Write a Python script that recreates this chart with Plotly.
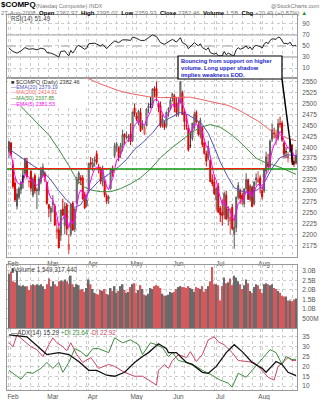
import plotly.graph_objects as go
from datetime import date

# ---------------- DATA ----------------
dates = [
 "2008-02-01","2008-02-04","2008-02-05","2008-02-06","2008-02-07","2008-02-08","2008-02-11","2008-02-12","2008-02-13","2008-02-14",
 "2008-02-15","2008-02-19","2008-02-20","2008-02-21","2008-02-22","2008-02-25","2008-02-26","2008-02-27","2008-02-28","2008-02-29",
 "2008-03-03","2008-03-04","2008-03-05","2008-03-06","2008-03-07","2008-03-10","2008-03-11","2008-03-12","2008-03-13","2008-03-14",
 "2008-03-17","2008-03-18","2008-03-19","2008-03-20","2008-03-24","2008-03-25","2008-03-26","2008-03-27","2008-03-28","2008-03-31",
 "2008-04-01","2008-04-02","2008-04-03","2008-04-04","2008-04-07","2008-04-08","2008-04-09","2008-04-10","2008-04-11","2008-04-14",
 "2008-04-15","2008-04-16","2008-04-17","2008-04-18","2008-04-21","2008-04-22","2008-04-23","2008-04-24","2008-04-25","2008-04-28",
 "2008-04-29","2008-04-30",
 "2008-05-01","2008-05-02","2008-05-05","2008-05-06","2008-05-07","2008-05-08","2008-05-09","2008-05-12","2008-05-13","2008-05-14",
 "2008-05-15","2008-05-16","2008-05-19","2008-05-20","2008-05-21","2008-05-22","2008-05-23","2008-05-27","2008-05-28","2008-05-29",
 "2008-05-30",
 "2008-06-02","2008-06-03","2008-06-04","2008-06-05","2008-06-06","2008-06-09","2008-06-10","2008-06-11","2008-06-12","2008-06-13",
 "2008-06-16","2008-06-17","2008-06-18","2008-06-19","2008-06-20","2008-06-23","2008-06-24","2008-06-25","2008-06-26","2008-06-27",
 "2008-06-30",
 "2008-07-01","2008-07-02","2008-07-03","2008-07-07","2008-07-08","2008-07-09","2008-07-10","2008-07-11","2008-07-14","2008-07-15",
 "2008-07-16","2008-07-17","2008-07-18","2008-07-21","2008-07-22","2008-07-23","2008-07-24","2008-07-25","2008-07-28","2008-07-29",
 "2008-07-30","2008-07-31",
 "2008-08-01","2008-08-04","2008-08-05","2008-08-06","2008-08-07","2008-08-08","2008-08-11","2008-08-12","2008-08-13","2008-08-14",
 "2008-08-15","2008-08-18","2008-08-19","2008-08-20","2008-08-21","2008-08-22","2008-08-25","2008-08-26","2008-08-27"]

opens = [
 2390,2410,2360,2318,2265,2285,2303,2335,2340,2368,2320,2345,2290,2335,2300,2300,2320,2335,2340,2320,
 2268,2250,2268,2265,2205,2210,2198,2258,2220,2268,2165,2200,2272,2212,2272,2325,2330,2330,2292,2266,
 2300,2365,2355,2368,2385,2355,2350,2320,2320,2288,2282,2305,2350,2380,2402,2400,2385,2405,2430,2422,2420,2430,
 2415,2490,2472,2455,2480,2445,2430,2450,2490,2500,2495,2535,2535,2500,2495,2452,2455,2448,2485,2488,2512,
 2518,2500,2475,2505,2525,2480,2450,2445,2405,2420,2445,2480,2450,2428,2445,2410,2385,2375,2370,2325,2320,
 2280,2310,2260,2250,2245,2290,2238,2230,2262,2200,2215,2285,2300,2290,2270,2305,2325,2280,2308,2270,2325,2320,
 2330,2300,2300,2345,2365,2355,2418,2432,2422,2420,2455,2455,2410,2390,2375,2390,2405,2368,2363]
highs = [
 2414,2412,2370,2330,2305,2310,2322,2352,2376,2376,2325,2347,2332,2340,2308,2332,2355,2363,2345,2320,
 2270,2265,2290,2270,2235,2218,2256,2282,2274,2272,2200,2269,2276,2260,2332,2345,2336,2336,2298,2290,
 2363,2378,2375,2379,2392,2362,2355,2358,2325,2293,2290,2353,2358,2410,2412,2402,2410,2440,2432,2436,2430,2455,
 2482,2500,2480,2486,2490,2462,2450,2490,2502,2515,2535,2540,2551,2505,2505,2475,2460,2482,2492,2515,2525,
 2522,2515,2515,2552,2530,2485,2475,2450,2437,2456,2482,2485,2460,2468,2448,2413,2392,2415,2374,2338,2335,
 2308,2318,2265,2280,2298,2300,2265,2260,2270,2245,2287,2320,2305,2295,2306,2340,2328,2315,2312,2322,2340,2345,
 2335,2305,2350,2390,2385,2418,2455,2445,2440,2465,2470,2460,2415,2400,2390,2418,2408,2378,2395]
lows = [
 2376,2380,2305,2275,2257,2280,2293,2305,2335,2328,2308,2298,2285,2293,2258,2290,2315,2330,2320,2268,
 2240,2228,2250,2220,2190,2168,2185,2243,2200,2198,2155,2195,2208,2205,2270,2315,2313,2280,2258,2262,
 2295,2350,2345,2355,2360,2340,2315,2310,2285,2270,2270,2303,2332,2375,2390,2368,2375,2390,2406,2418,2412,2405,
 2412,2470,2460,2450,2435,2440,2428,2448,2478,2490,2490,2515,2505,2480,2445,2445,2440,2445,2470,2485,2505,
 2480,2470,2470,2500,2474,2440,2440,2390,2398,2415,2440,2455,2425,2420,2400,2383,2356,2370,2320,2310,2290,
 2255,2250,2228,2220,2235,2233,2220,2200,2210,2167,2205,2280,2270,2268,2262,2300,2280,2275,2262,2266,2312,2318,
 2295,2280,2295,2338,2350,2350,2412,2420,2405,2415,2445,2412,2375,2375,2365,2388,2360,2355,2360]
closes = [
 2413,2383,2310,2279,2293,2305,2320,2320,2374,2333,2322,2306,2327,2300,2303,2327,2345,2354,2332,2271,
 2259,2260,2273,2221,2212,2169,2256,2244,2264,2212,2177,2268,2210,2258,2327,2341,2324,2281,2261,2279,
 2363,2361,2364,2371,2365,2349,2322,2352,2290,2276,2286,2350,2342,2403,2408,2377,2405,2429,2423,2424,2426,2413,
 2481,2477,2464,2483,2438,2451,2446,2488,2495,2497,2534,2529,2516,2492,2448,2465,2445,2481,2487,2508,2523,
 2492,2480,2503,2550,2475,2459,2449,2394,2404,2455,2475,2458,2430,2462,2406,2386,2368,2401,2321,2316,2293,
 2305,2251,2245,2243,2294,2235,2258,2239,2213,2216,2285,2312,2283,2280,2304,2326,2280,2311,2264,2320,2330,2326,
 2311,2286,2350,2378,2356,2414,2440,2431,2429,2454,2453,2417,2384,2389,2380,2415,2366,2362,2382]
prior_close = 2389

volume_b = [
 2.85,2.95,2.45,2.40,3.00,2.25,2.20,2.25,2.20,2.20,2.00,2.25,2.30,2.25,2.30,2.25,2.30,2.20,2.05,2.30,
 2.60,2.20,2.45,2.30,2.20,2.45,2.50,2.45,2.55,2.45,2.30,2.75,2.30,2.15,2.30,2.25,2.00,2.05,1.90,2.10,
 2.55,2.30,2.05,1.85,1.80,1.75,2.00,1.95,2.05,1.80,1.75,2.10,1.95,2.20,1.85,1.95,2.20,2.30,2.00,1.85,1.90,2.15,
 2.30,2.35,1.85,2.00,2.25,2.05,1.75,1.70,1.80,2.10,2.05,2.20,2.25,2.20,2.10,1.80,1.70,1.70,1.75,1.90,1.85,
 1.90,2.05,2.15,2.20,2.15,2.15,2.10,2.20,2.10,2.05,1.90,2.15,2.10,2.05,2.20,1.90,2.05,2.20,2.45,3.20,2.30,
 2.30,2.25,1.45,2.20,2.65,2.35,2.40,2.60,2.25,2.75,2.65,2.45,2.30,2.05,2.25,2.55,2.35,1.95,1.85,2.15,2.30,2.25,
 2.05,1.85,2.30,2.35,2.30,2.25,2.30,2.10,2.05,1.95,1.85,1.70,1.65,1.65,1.45,1.45,1.40,1.50,1.55]

ema5 = [
 2388,2386,2361,2334,2320,2315,2317,2318,2337,2336,2331,2323,2324,2316,2312,2317,2326,2335,2334,2313,
 2295,2283,2280,2260,2244,2219,2231,2235,2245,2234,2215,2233,2225,2236,2266,2291,2302,2295,2284,2282,
 2309,2327,2339,2350,2355,2353,2343,2346,2327,2310,2302,2318,2326,2352,2371,2373,2384,2399,2407,2413,2417,2416,
 2438,2451,2455,2464,2455,2454,2451,2463,2474,2482,2499,2509,2511,2505,2486,2479,2468,2472,2477,2487,2499,
 2497,2491,2495,2513,2500,2486,2474,2447,2433,2440,2452,2454,2446,2451,2436,2419,2402,2402,2375,2355,2334,
 2324,2300,2282,2269,2277,2263,2261,2254,2240,2232,2250,2271,2275,2277,2286,2299,2293,2299,2287,2298,2309,2315,
 2313,2304,2319,2339,2345,2368,2392,2405,2413,2427,2436,2430,2415,2406,2397,2403,2391,2381,2381]

# sparse readings of smoother lines: trading-day number -> value
ema20_day = [0, 5, 9, 13, 17, 21, 25, 29, 33, 36, 40, 45, 50, 55, 59, 63, 67, 72, 76, 81, 86, 90, 94, 97, 100, 103, 106, 110, 113, 118, 122, 125, 128, 132, 136, 140, 144]
ema20_val = [2396, 2380, 2368, 2355, 2345, 2325, 2300, 2278, 2262, 2268, 2298, 2322, 2338, 2355, 2372, 2395, 2410, 2433, 2456, 2468, 2480, 2474, 2463, 2452, 2432, 2400, 2366, 2330, 2307, 2297, 2297, 2303, 2318, 2352, 2376, 2383, 2379.19]

ma50_day = [0, 5, 10, 15, 20, 25, 30, 34, 38, 42, 46, 51, 56, 61, 66, 71, 76, 81, 86, 91, 96, 101, 106, 110, 115, 120, 124, 128, 132, 136, 140, 144]
ma50_val = [2522, 2498, 2475, 2452, 2428, 2395, 2358, 2325, 2308, 2301, 2298, 2298, 2305, 2316, 2330, 2350, 2376, 2396, 2415, 2432, 2446, 2452, 2446, 2434, 2416, 2392, 2375, 2366, 2360, 2354, 2346, 2337.85]

ma200_day = [34, 38, 42, 46, 50, 55, 60, 65, 70, 76, 81, 86, 91, 96, 101, 106, 110, 115, 120, 125, 130, 132, 136, 140, 144]
ma200_val = [2572, 2562, 2553, 2545, 2538, 2530, 2524, 2520, 2516, 2514, 2514, 2515, 2515, 2510, 2505, 2500, 2496, 2486, 2473, 2460, 2443, 2436, 2428, 2420, 2414.91]

rsi_day = [0, 2, 4, 6, 8, 10, 12, 14, 16, 18, 19, 21, 23, 25, 26, 28, 29, 30, 31, 32, 33, 34, 35, 37, 38, 39, 40, 43, 46, 47, 49, 51, 53, 55, 57, 59, 61, 62, 64, 66, 68, 70, 72, 74, 76, 78, 80, 82, 84, 86, 87, 89, 90, 92, 93, 95, 96, 97, 99, 100, 101, 103, 104, 105, 107, 108, 109, 110, 112, 113, 114, 115, 116, 118, 119, 120, 121, 122, 123, 124, 126, 127, 128, 129, 130, 131, 132, 134, 135, 136, 137, 138, 139, 140, 141, 142, 143, 144]
rsi_val = [46, 40, 37, 41, 47, 44, 45, 43, 46, 44, 38, 37, 34, 30, 40, 41, 36, 32, 42, 37, 42, 49, 51, 46, 44, 46, 54, 55, 50, 53, 45, 53, 59, 56, 61, 61, 60, 66, 64, 60, 60, 65, 70, 67, 56, 53, 58, 62, 57, 65, 56, 52, 45, 53, 56, 50, 54, 47, 43, 47, 38, 35, 37, 32, 32, 40, 34, 37, 33, 33, 43, 47, 44, 47, 50, 45, 48, 43, 49, 51, 49, 46, 53, 57, 54, 60, 63, 62, 66, 65, 59, 54, 55, 53, 57, 51, 50, 51.49]

adx_day = [0, 9, 19, 25, 30, 35, 40, 44, 49, 53, 58, 63, 67, 70, 75, 79, 80, 84, 89, 92, 97, 100, 104, 109, 113, 117, 122, 127, 129, 134, 137, 140, 144]
adx_val = [36, 35, 26, 27, 26, 22.5, 18, 18, 15.5, 15, 17, 22, 25, 27, 31.5, 29, 27, 27, 22, 21, 17, 16.5, 20, 27, 31, 27.5, 22, 19, 17, 22.5, 21, 17, 15.29]

pdi_day = [0, 6, 9, 12, 16, 19, 22, 25, 27, 30, 33, 36, 39, 42, 45, 50, 53, 57, 61, 65, 67, 71, 74, 77, 80, 82, 85, 89, 91, 94, 97, 102, 106, 110, 112, 115, 119, 122, 124, 128, 131, 134, 137, 139, 142, 144]
pdi_val = [18, 13.5, 17, 16.5, 19, 22, 19, 22, 17, 22, 29, 27.5, 25, 29, 29, 27, 34.5, 32, 33.5, 31, 26, 32, 31, 29.5, 25, 27, 23, 22, 21, 20, 18, 15.5, 13, 11.5, 9.5, 16.5, 14.5, 18, 20, 25, 28.5, 27, 21, 25, 23.5, 23.64]

mdi_day = [0, 2, 4, 7, 11, 14, 17, 20, 22, 24, 27, 29, 31, 34, 37, 41, 45, 50, 53, 58, 63, 67, 72, 74, 75, 78, 80, 82, 85, 89, 91, 94, 97, 100, 103, 105, 108, 112, 115, 119, 123, 126, 130, 133, 135, 138, 140, 142, 144]
mdi_val = [32, 30, 36, 33.5, 30, 28.5, 25, 31, 34.5, 32, 30, 28, 32, 26, 22, 24.5, 19, 21, 20, 17, 15, 15, 12, 10.5, 18, 21, 19, 23, 26, 24.5, 27.5, 22.5, 26, 33.5, 35, 32.5, 31, 27, 23, 22.5, 22, 19, 14.5, 13, 20, 22.5, 24.5, 23, 22.92]

support_level = 2350
resist_level = 2351
resist_spans = [(0.5, 50.5), (98.5, 128.5)]

month_labels = ["Feb", "Mar", "Apr", "May", "Jun", "Jul", "Aug"]
price_ticks = [2175, 2200, 2225, 2250, 2275, 2300, 2325, 2350, 2375, 2400, 2425, 2450, 2475, 2500, 2525, 2550]
rsi_ticks = [10, 30, 50, 70, 90]
vol_ticks = [0.5, 1.0, 1.5, 2.0, 2.5, 3.0]
vol_tick_text = ["500M", "1.0B", "1.5B", "2.0B", "2.5B", "3.0B"]
adx_ticks = [10, 15, 20, 25, 30, 35]
callout_lines = ["Bouncing from support on higher", "volume. Long upper shadow", "implies weakness EOD."]

# ---------------- DERIVED ----------------
FONT = "Liberation Sans, Arial, sans-serif"
W, H = 322, 400
ML, MR = 7, 25
days = list(range(len(dates)))
dobj = [date.fromisoformat(d) for d in dates]
month_starts = [i for i in days if i == 0 or dobj[i].month != dobj[i - 1].month]
week_starts = [i for i in days if i > 0 and dobj[i].weekday() < dobj[i - 1].weekday() and i not in month_starts]

prev = [prior_close] + closes[:-1]
up_idx = [i for i in days if closes[i] >= prev[i]]
dn_idx = [i for i in days if closes[i] < prev[i]]
vol_colors = ["#6a6a6a" if closes[i] >= prev[i] else "#d4585c" for i in days]

def px_y(p):  # pixel row -> paper
    return 1 - p / H
def px_x(p):
    return (p - ML) / (W - ML - MR)

fig = go.Figure()

def pick(idx, arr):
    return [arr[i] for i in idx]

# candles
fig.add_trace(go.Candlestick(
    x=pick(up_idx, days), open=pick(up_idx, opens), high=pick(up_idx, highs),
    low=pick(up_idx, lows), close=pick(up_idx, closes), xaxis="x2", yaxis="y2",
    increasing=dict(line=dict(color="#555555", width=1), fillcolor="#c8c8c8"),
    decreasing=dict(line=dict(color="#222222", width=1), fillcolor="#222222"),
    whiskerwidth=0, hoverinfo="skip"))
fig.add_trace(go.Candlestick(
    x=pick(dn_idx, days), open=pick(dn_idx, opens), high=pick(dn_idx, highs),
    low=pick(dn_idx, lows), close=pick(dn_idx, closes), xaxis="x2", yaxis="y2",
    increasing=dict(line=dict(color="#e04848", width=1), fillcolor="#f4b4b4"),
    decreasing=dict(line=dict(color="#dd0000", width=1), fillcolor="#dd0000"),
    whiskerwidth=0, hoverinfo="skip"))

def line(xd, yv, color, ax, ay, w=1):
    fig.add_trace(go.Scatter(x=xd, y=yv, mode="lines", line=dict(color=color, width=w),
                             xaxis=ax, yaxis=ay, hoverinfo="skip"))

line(ma200_day, ma200_val, "#f06262", "x2", "y2")
line(ma50_day, ma50_val, "#3c8c3c", "x2", "y2")
line(ema20_day, ema20_val, "#5050b4", "x2", "y2")
line(days, ema5, "#ff00ff", "x2", "y2")

# RSI
line(rsi_day, rsi_val, "#222222", "x", "y")

# Volume
fig.add_trace(go.Bar(x=days, y=volume_b, marker=dict(color=vol_colors, line=dict(width=0)),
                     xaxis="x3", yaxis="y3", hoverinfo="skip"))

# ADX
line(mdi_day, mdi_val, "#cc4466", "x4", "y4")
line(pdi_day, pdi_val, "#3c8c3c", "x4", "y4")
line(adx_day, adx_val, "#111111", "x4", "y4", 1.3)

# ---------------- AXES ----------------
grid = dict(showgrid=True, gridcolor="#cccccc", griddash="dot", gridwidth=1)
tickfont = dict(family=FONT, size=6.5, color="#555555")

def xax(anchor, labels):
    return dict(anchor=anchor, domain=[0, 1], range=[-1, 144.5], tickmode="array",
                tickvals=month_starts, ticktext=month_labels, showticklabels=labels,
                ticks="", tickfont=tickfont, ticklabelshift=4, ticklabelstandoff=0,
                showline=True, mirror=True, linecolor="#9a9a9a", linewidth=1, zeroline=False,
                minor=dict(tickvals=week_starts, showgrid=True, gridcolor="#cccccc", griddash="dot", ticks=""),
                rangeslider=dict(visible=False), fixedrange=True, **grid)

def yax(anchor, dom, rng, tv, tt=None):
    d = dict(anchor=anchor, domain=dom, range=rng, side="right", tickmode="array", tickvals=tv,
             ticks="", tickfont=tickfont, ticklabelstandoff=3, showline=True, mirror=True,
             linecolor="#9a9a9a", linewidth=1, zeroline=False, fixedrange=True, **grid)
    if tt is not None:
        d["ticktext"] = tt
    return d

fig.update_layout(
    width=W, height=H, margin=dict(l=ML, r=MR, t=0, b=0),
    paper_bgcolor="white", plot_bgcolor="white", showlegend=False, bargap=0.2,
    font=dict(family=FONT, size=7, color="#333"),
    xaxis=xax("y", False), xaxis2=xax("y2", True), xaxis3=xax("y3", False), xaxis4=xax("y4", True),
    yaxis=yax("x", [px_y(78), px_y(15)], [-8, 106], rsi_ticks),
    yaxis2=yax("x2", [px_y(257), px_y(78)], [2148, 2559], price_ticks),
    yaxis3=yax("x3", [px_y(328), px_y(265)], [0, 3.31], vol_ticks, vol_tick_text),
    yaxis4=yax("x4", [px_y(390), px_y(329)], [8, 39], adx_ticks),
)

shapes = []
# RSI reference lines
for lvl, dash in [(70, "solid"), (30, "solid"), (50, "dash")]:
    shapes.append(dict(type="line", xref="x", yref="y", x0=-1, x1=144.5, y0=lvl, y1=lvl,
                       line=dict(color="#8a8a8a", width=1, dash=dash), layer="below"))
# support / resistance lines
shapes.append(dict(type="line", xref="x2", yref="y2", x0=-1, x1=144.5, y0=support_level, y1=support_level,
                   line=dict(color="#109a10", width=1.6), layer="above"))
for a, b in resist_spans:
    shapes.append(dict(type="line", xref="x2", yref="y2", x0=a, x1=b, y0=resist_level, y1=resist_level,
                       line=dict(color="#ff1a1a", width=1.1), layer="above"))
# legend background
shapes.append(dict(type="rect", xref="paper", yref="paper", x0=px_x(8), x1=px_x(88), y0=px_y(106), y1=px_y(79),
                   fillcolor="white", line=dict(width=0), layer="above"))
# callout box + pointer
shapes.append(dict(type="rect", xref="paper", yref="paper", x0=px_x(178), x1=px_x(282), y0=px_y(79), y1=px_y(56),
                   fillcolor="white", line=dict(color="black", width=1.2), layer="above"))
shapes.append(dict(type="line", xref="paper", yref="paper", x0=px_x(282), x1=px_x(293), y0=px_y(79), y1=px_y(165),
                   line=dict(color="black", width=1.5), layer="above"))
fig.update_layout(shapes=shapes)

ann = []
def T(x, y, text, size=6.5, color="#333", anchor="left", bold=False):
    ann.append(dict(x=px_x(x), y=px_y(y), xref="paper", yref="paper", text=("<b>%s</b>" % text) if bold else text,
                    showarrow=False, xanchor=anchor, yanchor="middle", align="left",
                    font=dict(family=FONT, size=size, color=color), borderpad=0))

T(0, 5, "$COMPQ", 8, "#000", bold=True)
T(35, 5.5, "(Nasdaq Composite) INDX", 5.6, "#777")
T(321, 5.5, "@StockCharts.com", 5.6, "#777", anchor="right")
T(0, 13, "<span style='color:#777'>27-Aug-2008</span>  <b>Open</b> <span style='color:#777'>2362.97</span>  "
         "<b>High</b> <span style='color:#777'>2395.02</span>  <b>Low</b> <span style='color:#777'>2359.93</span>  "
         "<b>Close</b> <span style='color:#777'>2382.46</span>  <b>Volume</b> <span style='color:#777'>1.5B</span>  "
         "<b>Chg</b> <span style='color:#777'>+20.49 (+0.87%)</span> <span style='color:#1a9a1a'>▲</span>", 6, "#000")
T(10, 19, "RSI(14) 51.49", 6.3, "#444")
T(10, 81.5, "■ $COMPQ (Daily) 2382.46", 5.6, "#333")
T(10, 87, "—EMA(20) 2379.19", 5.3, "#5050b4")
T(10, 92.5, "—MA(200) 2414.91", 5.3, "#f06262")
T(10, 98, "—MA(50) 2337.85", 5.3, "#3c8c3c")
T(10, 103.5, "—EMA(5) 2381.53", 5.3, "#ff00ff")
T(10, 269, "▮Volume 1,549,317,440", 6.3, "#444")
T(10, 332.5, "<span style='color:#333'>—ADX(14) 15.29</span> <span style='color:#3c8c3c'>+DI 23.64</span> "
           "<span style='color:#cc4466'>-DI 22.92</span>", 6.3)
for k, txt in enumerate(callout_lines):
    T(180, 61 + 7 * k, txt, 5.7, "#2222cc", bold=True)
fig.update_layout(annotations=ann)

fig.write_html("out.html")
